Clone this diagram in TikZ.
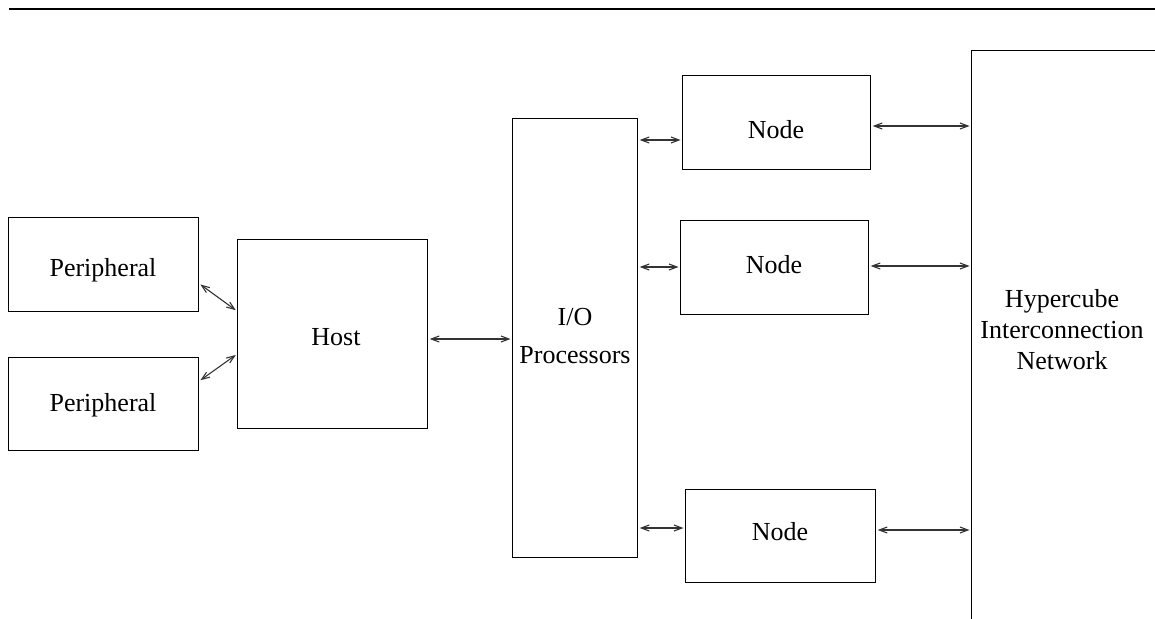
\documentclass[tikz,border=0pt]{standalone}
\usepackage{fontspec}
\setmainfont{Liberation Serif}
\usetikzlibrary{arrows.meta}
\begin{document}
\begin{tikzpicture}[x=1pt,y=-1pt,
  every node/.style={font=\fontsize{26}{31}\selectfont},
  block/.style={draw, line width=1.2pt, inner sep=0pt, anchor=north west},
  link/.style={draw=black!80, line width=1.1pt,
    {Straight Barb[length=8pt,width=6pt]}-{Straight Barb[length=8pt,width=6pt]},
    shorten <=1.5pt, shorten >=1.5pt}]
  \useasboundingbox (0,0) rectangle (1155,618);
  \clip (0,0) rectangle (1155,618);

  % rule across the top of the figure
  \draw[line width=2.5pt] (9,9) -- (1160,9);

  % blocks (north-west corner, size)
  \node[block, minimum width=190pt, minimum height=94pt] (p1) at (8,217) {};
  \node[block, minimum width=190pt, minimum height=93pt] (p2) at (8,357) {};
  \node[block, minimum width=190pt, minimum height=189pt] (host) at (237,239) {};
  \node[block, minimum width=125pt, minimum height=439pt] (io) at (512,118) {};
  \node[block, minimum width=188pt, minimum height=94pt] (n1) at (682,75) {};
  \node[block, minimum width=188pt, minimum height=94pt] (n2) at (680,220) {};
  \node[block, minimum width=190pt, minimum height=93pt] (n3) at (685,489) {};
  \node[block, minimum width=300pt, minimum height=700pt] (hyper) at (971,50) {};

  % labels
  \node (tp1) at (103,270) {Peripheral};
  \node (tp2) at (103,405) {Peripheral};
  \node (thost) at (336,337) {Host};
  \node[align=center] (tio) at (575,336) {I/O\\[7pt]Processors};
  \node (tn1) at (776,130) {Node};
  \node (tn2) at (774,265) {Node};
  \node (tn3) at (780,532) {Node};
  \node[align=center] (thyper) at (1062,330) {Hypercube\\Interconnection\\Network};

  % connectors
  \draw[link] ([yshift=-19pt]p1.east) -- ([yshift=23pt]host.west);
  \draw[link] ([yshift=23pt]p2.east) -- ([yshift=-20pt]host.west);
  \draw[link] (host.east |- 0,339) -- (io.west |- 0,339);
  \draw[link] (io.east |- 0,140) -- (n1.west |- 0,140);
  \draw[link] (io.east |- 0,267) -- (n2.west |- 0,267);
  \draw[link] (io.east |- 0,528) -- (n3.west |- 0,528);
  \draw[link] (n1.east |- 0,126) -- (hyper.west |- 0,126);
  \draw[link] (n2.east |- 0,266) -- (hyper.west |- 0,266);
  \draw[link] (n3.east |- 0,530) -- (hyper.west |- 0,530);
\end{tikzpicture}
\end{document}
